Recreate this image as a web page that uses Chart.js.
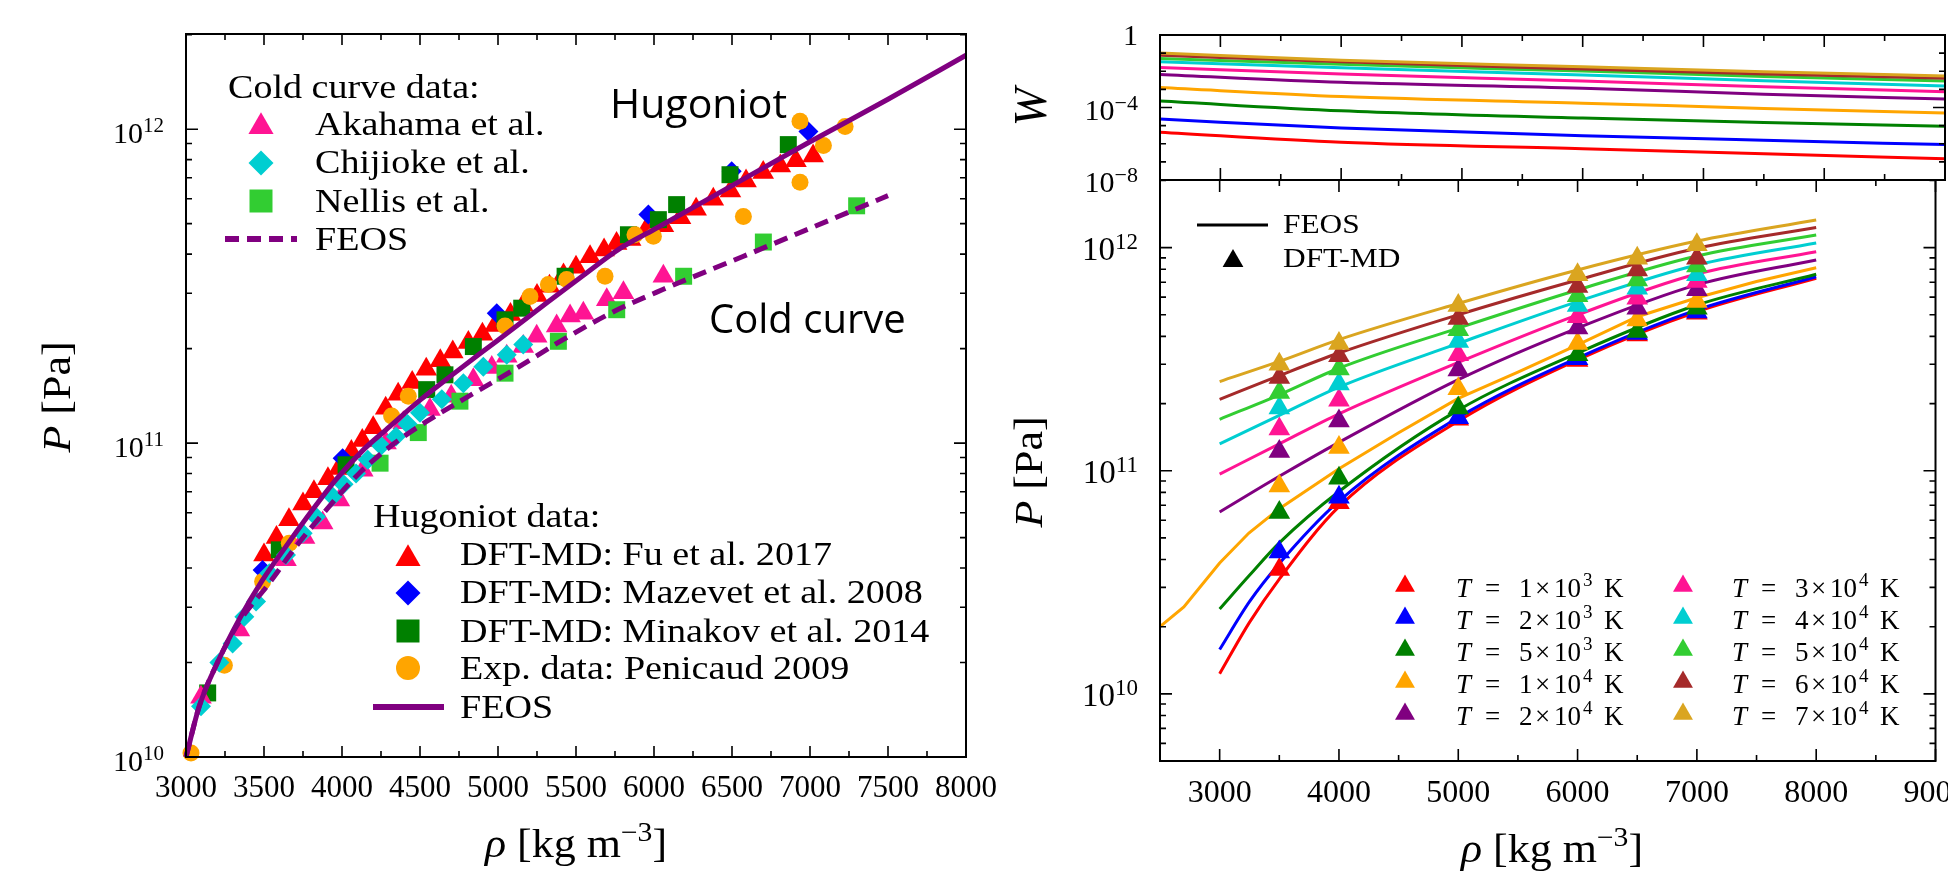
<!DOCTYPE html>
<html>
<head>
<meta charset="utf-8">
<script src="https://cdn.jsdelivr.net/npm/chart.js@4.4.1/dist/chart.umd.min.js"></script>
<style>
html,body{margin:0;padding:0;background:#ffffff;width:1948px;height:873px;overflow:hidden;}
canvas{position:absolute;left:0;top:0;}
</style>
</head>
<body>
<canvas id="cL" width="1948" height="873"></canvas>
<canvas id="cW" width="1948" height="873"></canvas>
<canvas id="cP" width="1948" height="873"></canvas>
<script>
// ---------------- LEFT PANEL DATA (rho in kg m^-3, P in Pa) ----------------
const hugFeosRho = [3000,3085,3210,3340,3490,3640,3810,3960,4140,4280,4500,4700,4885,5100,5313,5550,5783,6000,6500,7000,7500,8000];
const hugFeosP   = [1.0e10,1.45e10,2.04e10,2.74e10,3.66e10,4.68e10,6.12e10,7.64e10,9.55e10,1.10e11,1.37e11,1.64e11,1.93e11,2.32e11,2.80e11,3.43e11,4.17e11,4.79e11,6.61e11,9.12e11,1.245e12,1.72e12];
const coldFeosRho = [3000,3085,3210,3340,3534,3705,3898,4111,4325,4540,4780,5100,5420,5740,6060,6570,7000,7500];
const coldFeosP   = [1.0e10,1.45e10,2.04e10,2.69e10,3.58e10,4.68e10,6.12e10,8.02e10,9.89e10,1.17e11,1.38e11,1.71e11,2.14e11,2.62e11,3.09e11,3.93e11,4.83e11,6.14e11];
const fuRho = [3500,3580,3660,3750,3820,3910,3980,4060,4130,4200,4280,4360,4450,4540,4630,4710,4810,4900,4980,5080,5160,5250,5330,5420,5500,5590,5680,5760,5850,5950,6060,6170,6270,6380,6490,6590,6700,6810,6910,7020];
const fuP   = [4.4e10,5.0e10,5.7e10,6.4e10,7.0e10,7.7e10,8.3e10,9.4e10,1.02e11,1.12e11,1.29e11,1.43e11,1.56e11,1.72e11,1.83e11,1.95e11,2.09e11,2.22e11,2.37e11,2.57e11,2.75e11,2.95e11,3.16e11,3.43e11,3.63e11,3.92e11,4.12e11,4.32e11,4.45e11,4.79e11,4.92e11,5.22e11,5.56e11,5.98e11,6.35e11,6.84e11,7.28e11,7.64e11,7.93e11,8.22e11];
const mazRho = [3491,4004,4992,5964,6498,6990];
const mazP   = [3.94e10,8.95e10,2.59e11,5.35e11,7.35e11,9.84e11];
const minRho = [3139,3598,4026,4543,4660,4842,5045,5152,5430,5836,6028,6145,6487,6861];
const minP   = [1.6e10,4.57e10,8.53e10,1.48e11,1.65e11,2.03e11,2.47e11,2.69e11,3.40e11,4.61e11,5.15e11,5.75e11,7.16e11,8.93e11];
const penRho = [3032,3246,3491,3662,4318,4425,5045,5205,5323,5440,5686,5878,5996,6573,6936,6936,7086,7225];
const penP   = [1.03e10,1.96e10,3.62e10,4.8e10,1.22e11,1.41e11,2.36e11,2.93e11,3.2e11,3.32e11,3.40e11,4.61e11,4.56e11,5.27e11,6.78e11,1.06e12,8.87e11,1.02e12];
const akaRho = [3096,3342,3641,3760,3876,3983,4133,4282,4393,4564,4700,4842,4960,5056,5162,5248,5376,5462,5547,5697,5804,6060];
const akaP   = [1.55e10,2.54e10,4.25e10,5.0e10,5.56e10,6.59e10,8.2e10,1.0e11,1.16e11,1.28e11,1.41e11,1.59e11,1.74e11,1.89e11,2.03e11,2.19e11,2.36e11,2.54e11,2.59e11,2.86e11,3.01e11,3.40e11];
const chiRho = [3096,3214,3299,3374,3449,3534,3641,3748,3833,3940,4010,4090,4165,4250,4346,4420,4500,4640,4778,4906,5056,5162];
const chiP   = [1.45e10,2.0e10,2.3e10,2.8e10,3.13e10,3.85e10,4.4e10,5.16e10,5.83e10,6.76e10,7.4e10,8.0e10,8.85e10,9.8e10,1.05e11,1.15e11,1.25e11,1.38e11,1.55e11,1.75e11,1.91e11,2.06e11];
const nelRho = [4244,4489,4756,5045,5387,5761,6190,6701,7299];
const nelP   = [8.63e10,1.08e11,1.36e11,1.67e11,2.11e11,2.66e11,3.40e11,4.37e11,5.70e11];
const leftXTicks = [3000,3500,4000,4500,5000,5500,6000,6500,7000,7500,8000];
const leftYDecades = [10,11,12];

// ---------------- RIGHT PANEL DATA ----------------
const tempMant = [1,2,5,1,2,3,4,5,6,7];
const tempExp  = [3,3,3,4,4,4,4,4,4,4];
const tempColors = ['#ff0000','#0000ff','#008000','#ffa500','#800080','#ff1493','#00ced1','#32cd32','#a52a2a','#daa520'];
// FEOS isotherms P(rho)
const rhoLineLow = [3000,3250,3500,4000,5000,6000,7000,8000];
const rhoLineOrange = [2500,2700,3000,3245,3500,4000,4500,5000,5500,6000,6500,7000,7500,8000];
const rhoLine = [3000,3500,4000,5000,6000,7000,8000];
const pT1e3 = [1.23e10,2.09e10,3.27e10,6.90e10,1.67e11,3.14e11,5.16e11,7.29e11];
const pT2e3 = [1.58e10,2.59e10,3.84e10,7.31e10,1.73e11,3.20e11,5.26e11,7.41e11];
const pT5e3 = [2.40e10,3.40e10,4.75e10,8.07e10,1.87e11,3.37e11,5.53e11,7.60e11];
const pT1e4 = [2.0e10,2.45e10,3.86e10,5.26e10,6.76e10,1.02e11,1.48e11,2.11e11,2.77e11,3.67e11,4.90e11,5.96e11,7.05e11,8.13e11];
const pT2e4 = [6.53e10,9.44e10,1.34e11,2.56e11,4.36e11,6.81e11,8.81e11];
const pT3e4 = [9.66e10,1.32e11,1.80e11,3.06e11,5.00e11,7.62e11,9.59e11];
const pT4e4 = [1.32e11,1.77e11,2.37e11,3.72e11,5.73e11,8.36e11,1.05e12];
const pT5e4 = [1.70e11,2.19e11,2.88e11,4.36e11,6.46e11,9.18e11,1.14e12];
const pT6e4 = [2.09e11,2.67e11,3.37e11,5.00e11,7.16e11,9.93e11,1.23e12];
const pT7e4 = [2.51e11,3.09e11,3.87e11,5.62e11,7.94e11,1.07e12,1.33e12];
// DFT-MD points
const rhoDft = [3500,4000,5000,6000,6500,7000];
const dT1e3 = [3.61e10,7.18e10,1.70e11,3.12e11,4.06e11,5.08e11];
const dT2e3 = [4.32e10,7.60e10,1.73e11,3.18e11,4.12e11,5.15e11];
const dT5e3 = [6.50e10,9.25e10,1.91e11,3.31e11,4.21e11,5.35e11];
const dT1e4 = [8.55e10,1.27e11,2.33e11,3.72e11,4.74e11,5.73e11];
const dT2e4 = [1.22e11,1.67e11,2.83e11,4.36e11,5.35e11,6.47e11];
const dT3e4 = [1.54e11,2.07e11,3.31e11,4.90e11,5.93e11,7.05e11];
const dT4e4 = [1.91e11,2.45e11,3.80e11,5.51e11,6.58e11,7.55e11];
const dT5e4 = [2.24e11,2.86e11,4.28e11,6.08e11,7.16e11,8.28e11];
const dT6e4 = [2.62e11,3.28e11,4.81e11,6.70e11,7.94e11,8.97e11];
const dT7e4 = [3.00e11,3.72e11,5.51e11,7.55e11,8.97e11,1.03e12];
// W(rho)
const rhoW = [2500,4000,6000,7500,9000];
const wT1e3 = [4.3e-6,1.2e-6,5.3e-7,2.8e-7,1.5e-7];
const wT2e3 = [2.3e-5,7.4e-6,2.8e-6,1.55e-6,9.0e-7];
const wT5e3 = [2.3e-4,6.6e-5,2.6e-5,1.5e-5,9.1e-6];
const wT1e4 = [1.25e-3,4.0e-4,1.74e-4,8.9e-5,4.9e-5];
const wT2e4 = [6.7e-3,2.45e-3,1.16e-3,5.4e-4,2.9e-4];
const wT3e4 = [1.63e-2,7.0e-3,2.9e-3,1.41e-3,7.5e-4];
const wT4e4 = [3.3e-2,1.56e-2,6.2e-3,3.0e-3,1.55e-3];
const wT5e4 = [5.1e-2,2.4e-2,1.02e-2,5.2e-3,2.9e-3];
const wT6e4 = [7.7e-2,3.3e-2,1.32e-2,7.0e-3,4.1e-3];
const wT7e4 = [0.103,4.1e-2,1.77e-2,9.4e-3,5.5e-3];
const rightXTicks = [3000,4000,5000,6000,7000,8000,9000];

// ---------------- helpers ----------------
const SERIF = '"Liberation Serif","Times New Roman",serif';
const SANS = '"Open Sans","Liberation Sans",sans-serif';
function pts(xs, ys){ return xs.map((x,i)=>({x:x, y:ys[i]})); }
function lineDs(data, color, width, dash, straight){
  return {data:data, showLine:true, borderColor:color, backgroundColor:color, borderWidth:width,
    borderDash:dash||[], pointRadius:0, pointHoverRadius:0, fill:false,
    cubicInterpolationMode: straight ? 'default' : 'monotone', tension:0, clip:false};
}
function markDs(data, color, style, r){
  return {data:data, showLine:false, pointStyle:style, pointRadius:r, pointHoverRadius:r,
    pointBackgroundColor:color, pointBorderColor:color, pointBorderWidth:0, backgroundColor:color, borderColor:color, clip:false};
}
function txt(ctx, s, x, y, font, align, sx){
  sx = sx||1;
  ctx.save(); ctx.font = font; ctx.textAlign='left'; ctx.textBaseline='alphabetic'; ctx.fillStyle='#000';
  const w = ctx.measureText(s).width*sx;
  const x0 = align==='center' ? x-w/2 : (align==='right' ? x-w : x);
  ctx.translate(x0, y); ctx.scale(sx,1); ctx.fillText(s,0,0); ctx.restore();
  return w;
}
function rich(ctx, parts, x, y, align, sx){
  sx = sx||1;
  ctx.save(); ctx.textAlign='left'; ctx.textBaseline='alphabetic'; ctx.fillStyle='#000';
  let w = 0;
  for (const p of parts){ ctx.font=p[1]; w += ctx.measureText(p[0]).width*sx; }
  let cx = align==='center' ? x-w/2 : (align==='right' ? x-w : x);
  for (const p of parts){
    ctx.font=p[1]; const pw = ctx.measureText(p[0]).width*sx;
    ctx.save(); ctx.translate(cx, y+(p[2]||0)); ctx.scale(sx,1); ctx.fillText(p[0],0,0); ctx.restore();
    cx += pw;
  }
  ctx.restore();
}
function marker(ctx, style, x, y, r, color){
  ctx.save(); ctx.fillStyle=color; ctx.beginPath();
  if (style==='triangle'){
    const yc = y + r/4;
    ctx.moveTo(x, yc-r); ctx.lineTo(x+r*Math.sin(2*Math.PI/3), yc-r*Math.cos(2*Math.PI/3)); ctx.lineTo(x+r*Math.sin(4*Math.PI/3), yc-r*Math.cos(4*Math.PI/3));
  } else if (style==='diamond'){
    ctx.moveTo(x,y-r); ctx.lineTo(x+r,y); ctx.lineTo(x,y+r); ctx.lineTo(x-r,y);
  } else if (style==='square'){
    ctx.rect(x-r,y-r,2*r,2*r);
  } else {
    ctx.arc(x,y,r,0,Math.PI*2);
  }
  ctx.closePath(); ctx.fill(); ctx.restore();
}
function legLine(ctx, x1, x2, y, color, width, dash){
  ctx.save(); ctx.strokeStyle=color; ctx.lineWidth=width; ctx.setLineDash(dash||[]);
  ctx.beginPath(); ctx.moveTo(x1,y); ctx.lineTo(x2,y); ctx.stroke(); ctx.restore();
}
function frame(ctx, a){
  ctx.save(); ctx.strokeStyle='#000'; ctx.lineWidth=2;
  ctx.strokeRect(a.left, a.top, a.right-a.left, a.bottom-a.top); ctx.restore();
}
function xTicks(ctx, xs, a, from, to, step, majorStep, lMaj, lMin, top, bottom){
  ctx.save(); ctx.strokeStyle='#000'; ctx.lineWidth=1.6; ctx.beginPath();
  for (let v=from; v<=to; v+=step){
    const px = xs.getPixelForValue(v);
    const L = (v % majorStep === 0) ? lMaj : lMin;
    if (bottom){ ctx.moveTo(px,a.bottom); ctx.lineTo(px,a.bottom-L); }
    if (top){ ctx.moveTo(px,a.top); ctx.lineTo(px,a.top+L); }
  }
  ctx.stroke(); ctx.restore();
}
function yLogTicks(ctx, ys, a, d0, d1, minor, majorFn, lMaj, lMin){
  ctx.save(); ctx.strokeStyle='#000'; ctx.lineWidth=1.6; ctx.beginPath();
  for (let d=d0; d<=d1; d++){
    const ms = minor ? [1,2,3,4,5,6,7,8,9] : [1];
    for (const m of ms){
      const v = m*Math.pow(10,d);
      if (v < ys.min*0.999 || v > ys.max*1.001) continue;
      const py = ys.getPixelForValue(v);
      const L = (m===1 && majorFn(d)) ? lMaj : lMin;
      ctx.moveTo(a.left,py); ctx.lineTo(a.left+L,py);
      ctx.moveTo(a.right,py); ctx.lineTo(a.right-L,py);
    }
  }
  ctx.stroke(); ctx.restore();
}
function rotText(ctx, parts, cx, cy, sx){
  ctx.save(); ctx.translate(cx, cy); ctx.rotate(-Math.PI/2);
  ctx.textBaseline='alphabetic';
  rich(ctx, parts, 0, 12, 'center', sx);
  ctx.restore();
}
const baseOpts = (pad, xmin, xmax, ymin, ymax) => ({
  responsive:false, maintainAspectRatio:false, animation:false, devicePixelRatio:1, events:[],
  layout:{padding:pad},
  plugins:{legend:{display:false}, tooltip:{enabled:false}},
  scales:{
    x:{type:'linear', min:xmin, max:xmax, display:false},
    y:{type:'logarithmic', min:ymin, max:ymax, display:false}
  }
});

// ---------------- LEFT CHART ----------------
const leftDecor = {
  id:'leftDecor',
  afterDraw(chart){
    const ctx=chart.ctx, a=chart.chartArea, xs=chart.scales.x, ys=chart.scales.y;
    frame(ctx,a);
    xTicks(ctx, xs, a, 3000, 8000, 250, 500, 11, 6, true, true);
    yLogTicks(ctx, ys, a, 10, 12, true, ()=>true, 12, 6);
    for (const v of leftXTicks) txt(ctx, String(v), xs.getPixelForValue(v), 797, `31px ${SERIF}`, 'center');
    for (const d of leftYDecades){
      const py = ys.getPixelForValue(Math.pow(10,d));
      rich(ctx, [['10',`30px ${SERIF}`,0],[String(d),`21px ${SERIF}`,-11]], 164, py+14, 'right');
    }
    rich(ctx, [['ρ',`italic 40px ${SERIF}`,0],[' [kg m',`40px ${SERIF}`,0],['−3',`27px ${SERIF}`,-16],[']',`40px ${SERIF}`,0]], 576, 857, 'center', 1.1);
    rotText(ctx, [['P',`italic 40px ${SERIF}`,0],[' [Pa]',`40px ${SERIF}`,0]], 58, 397, 1.1);
    txt(ctx, 'Hugoniot', 610, 118, `41px ${SANS}`, 'left');
    txt(ctx, 'Cold curve', 709, 333, `40px ${SANS}`, 'left');
    const LF = `34px ${SERIF}`, SX = 1.12;
    txt(ctx, 'Cold curve data:', 228, 98, LF, 'left', SX);
    marker(ctx,'triangle',261,123,14.5,'#ff1493'); txt(ctx,'Akahama et al.',315,135,LF,'left',SX);
    marker(ctx,'diamond',261,163,12.5,'#00ced1'); txt(ctx,'Chijioke et al.',315,173,LF,'left',SX);
    marker(ctx,'square',261,201,11.5,'#32cd32'); txt(ctx,'Nellis et al.',315,212,LF,'left',SX);
    legLine(ctx,225,297,239,'#800080',6,[14,8]); txt(ctx,'FEOS',315,250,LF,'left',SX);
    txt(ctx, 'Hugoniot data:', 373, 527, LF, 'left', SX);
    marker(ctx,'triangle',408,555,14.5,'#ff0000'); txt(ctx,'DFT-MD: Fu et al. 2017',460,565,LF,'left',SX);
    marker(ctx,'diamond',408,593,12.5,'#0000ff'); txt(ctx,'DFT-MD: Mazevet et al. 2008',460,603,LF,'left',SX);
    marker(ctx,'square',408,631,11.5,'#008000'); txt(ctx,'DFT-MD: Minakov et al. 2014',460,642,LF,'left',SX);
    marker(ctx,'circle',408,668,12,'#ffa500'); txt(ctx,'Exp. data: Penicaud 2009',460,679,LF,'left',SX);
    legLine(ctx,373,444,707,'#800080',6); txt(ctx,'FEOS',460,718,LF,'left',SX);
  }
};
new Chart(document.getElementById('cL'), {
  type:'scatter',
  data:{datasets:[
    lineDs(pts(hugFeosRho,hugFeosP),'#800080',5),
    lineDs(pts(coldFeosRho,coldFeosP),'#800080',5,[14,8]),
    markDs(pts(chiRho,chiP),'#00ced1','rectRot',10),
    markDs(pts(nelRho,nelP),'#32cd32','rect',12),
    markDs(pts(akaRho,akaP),'#ff1493','triangle',12.5),
    markDs(pts(penRho,penP),'#ffa500','circle',8.5),
    markDs(pts(minRho,minP),'#008000','rect',12),
    markDs(pts(mazRho,mazP),'#0000ff','rectRot',10),
    markDs(pts(fuRho,fuP),'#ff0000','triangle',12.5)
  ]},
  options: baseOpts({left:186, top:34, right:982, bottom:116}, 3000, 8000, 1e10, 2.01e12),
  plugins:[leftDecor]
});

// ---------------- RIGHT TOP CHART (W) ----------------
const wSeries = [wT1e3,wT2e3,wT5e3,wT1e4,wT2e4,wT3e4,wT4e4,wT5e4,wT6e4,wT7e4];
const wDecor = {
  id:'wDecor',
  afterDraw(chart){
    const ctx=chart.ctx, a=chart.chartArea, xs=chart.scales.x, ys=chart.scales.y;
    frame(ctx,a);
    xTicks(ctx, xs, a, 2500, 9000, 500, 1000, 12, 6, true, true);
    yLogTicks(ctx, ys, a, -8, 0, false, (d)=>d%4===0, 12, 6);
    txt(ctx, '1', 1138, ys.getPixelForValue(1)+10, `30px ${SERIF}`, 'right');
    for (const d of [-4,-8]){
      const py = ys.getPixelForValue(Math.pow(10,d));
      rich(ctx, [['10',`30px ${SERIF}`,0],['−'+Math.abs(d),`22px ${SERIF}`,-10]], 1138, py+12, 'right');
    }
    rotText(ctx, [['W',`italic 46px ${SERIF}`,0]], 1034, 107, 1);
  }
};
new Chart(document.getElementById('cW'), {
  type:'scatter',
  data:{datasets: wSeries.map((s,i)=>lineDs(pts(rhoW,s),tempColors[i],3)).reverse()},
  options: baseOpts({left:1160, top:35, right:3, bottom:693}, 2500, 9000, 1e-8, 1),
  plugins:[wDecor]
});

// ---------------- RIGHT BOTTOM CHART (isotherms) ----------------
const lineSets = [
  [rhoLineLow,pT1e3],[rhoLineLow,pT2e3],[rhoLineLow,pT5e3],[rhoLineOrange,pT1e4],
  [rhoLine,pT2e4],[rhoLine,pT3e4],[rhoLine,pT4e4],[rhoLine,pT5e4],[rhoLine,pT6e4],[rhoLine,pT7e4]
];
const dftSets = [dT1e3,dT2e3,dT5e3,dT1e4,dT2e4,dT3e4,dT4e4,dT5e4,dT6e4,dT7e4];
const pDecor = {
  id:'pDecor',
  afterDraw(chart){
    const ctx=chart.ctx, a=chart.chartArea, xs=chart.scales.x, ys=chart.scales.y;
    frame(ctx,a);
    xTicks(ctx, xs, a, 2500, 9000, 500, 1000, 12, 6, true, true);
    yLogTicks(ctx, ys, a, 9, 12, true, ()=>true, 12, 6);
    for (const v of rightXTicks) txt(ctx, String(v), xs.getPixelForValue(v), 802, `32px ${SERIF}`, 'center');
    for (const d of [10,11,12]){
      const py = ys.getPixelForValue(Math.pow(10,d));
      rich(ctx, [['10',`33px ${SERIF}`,0],[String(d),`23px ${SERIF}`,-11]], 1138, py+12, 'right');
    }
    rich(ctx, [['ρ',`italic 40px ${SERIF}`,0],[' [kg m',`40px ${SERIF}`,0],['−3',`27px ${SERIF}`,-16],[']',`40px ${SERIF}`,0]], 1552, 862, 'center', 1.1);
    rotText(ctx, [['P',`italic 40px ${SERIF}`,0],[' [Pa]',`40px ${SERIF}`,0]], 1030, 472, 1.1);
    legLine(ctx,1197,1268,225,'#000',3);
    txt(ctx,'FEOS',1283,233,`28px ${SERIF}`,'left',1.12);
    marker(ctx,'triangle',1233,258,12,'#000');
    txt(ctx,'DFT-MD',1283,267,`28px ${SERIF}`,'left',1.12);
    const rowsY = [597,629,661,693,725];
    for (let i=0;i<10;i++){
      const col = i<5 ? 0 : 1, row = i%5;
      const mx = col===0 ? 1405 : 1683, tx = col===0 ? 1456 : 1732;
      const base = rowsY[row];
      marker(ctx,'triangle',mx,base-14,11.5,tempColors[i]);
      txt(ctx,'T',tx,base,`italic 27px ${SERIF}`,'left');
      txt(ctx,'=',tx+29,base,`27px ${SERIF}`,'left');
      txt(ctx,String(tempMant[i]),tx+63,base,`27px ${SERIF}`,'left');
      txt(ctx,'×',tx+79,base,`27px ${SERIF}`,'left');
      txt(ctx,'10',tx+98,base,`27px ${SERIF}`,'left');
      txt(ctx,String(tempExp[i]),tx+127,base-11,`19px ${SERIF}`,'left');
      txt(ctx,'K',tx+148,base,`27px ${SERIF}`,'left');
    }
  }
};
const pDatasets = [];
for (let i=9;i>=0;i--) pDatasets.push(markDs(pts(rhoDft,dftSets[i]),tempColors[i],'triangle',12.5));
for (let i=9;i>=0;i--) pDatasets.push(lineDs(pts(lineSets[i][0],lineSets[i][1]),tempColors[i],3,null,i===3));
new Chart(document.getElementById('cP'), {
  type:'scatter',
  data:{datasets:pDatasets},
  options: baseOpts({left:1160, top:180, right:3, bottom:112}, 2500, 9000, 5.0e9, 2.01e12),
  plugins:[pDecor]
});
</script>
</body>
</html>
